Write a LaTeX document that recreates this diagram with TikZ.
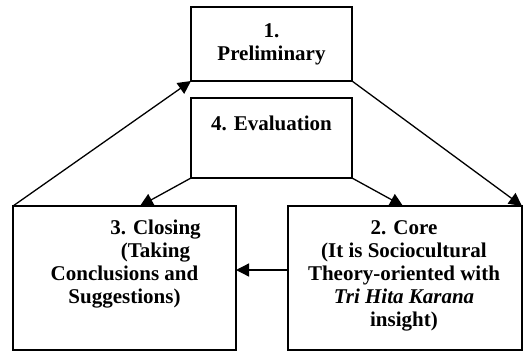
\documentclass[tikz,border=0pt]{standalone}
\usepackage{fontspec}
\setmainfont{Liberation Serif}
\usetikzlibrary{arrows.meta}
\begin{document}
\begin{tikzpicture}[x=0.5pt,y=-0.5pt,
  box/.style={draw,line width=1pt,inner sep=0pt,outer sep=0pt},
  txt/.style={align=center,inner sep=0pt,font=\fontsize{10.5}{11.5}\selectfont\bfseries},
  arr/.style={line width=0.65pt,-{Triangle[length=6.5pt,width=6.5pt]}}]
\useasboundingbox (0,0) rectangle (531,360);
\node[box,minimum width=80.5pt,minimum height=37pt] (b1) at (271.5,44) {};
\node[box,minimum width=80.5pt,minimum height=40pt] (b4) at (271.5,138) {};
\node[box,minimum width=111.5pt,minimum height=72pt] (b3) at (124.5,278) {};
\node[box,minimum width=117pt,minimum height=72pt] (b2) at (405,278) {};
\node[txt] (t1) at (271.5,44) {1.\\Preliminary};
\node[txt] (t4) at (271.5,123) {4. Evaluation};
\node[txt] (t3) at (124.5,264.5) {\hspace*{31pt}3. Closing\\\hspace*{31pt}(Taking\\Conclusions and\\Suggestions)};
\node[txt] (t2) at (404,276) {2. Core\\(It is Sociocultural\\Theory-oriented with\\\textit{Tri Hita Karana}\\insight)};
\draw[arr] (b3.north west) -- (b1.south west);
\draw[arr] (b1.south east) -- (b2.north east);
\draw[arr] (b4.south west) -- ([xshift=7.75pt]b3.north);
\draw[arr] (b4.south east) -- ([xshift=-1pt]b2.north);
\draw[arr] ([yshift=4pt]b2.west) -- ([yshift=4pt]b3.east);
\end{tikzpicture}
\end{document}
